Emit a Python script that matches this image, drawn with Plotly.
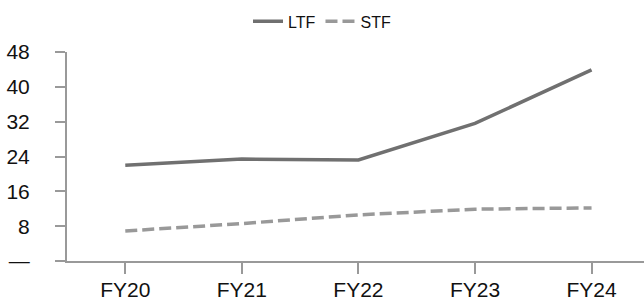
import plotly.graph_objects as go

categories = ["FY20", "FY21", "FY22", "FY23", "FY24"]
ltf = [22.0, 23.4, 23.2, 31.6, 43.9]
stf = [6.9, 8.6, 10.6, 11.9, 12.2]
y_tickvals = [0, 8, 16, 24, 32, 40, 48]
y_ticktext = ["—", "8", "16", "24", "32", "40", "48"]

fig = go.Figure()
fig.add_trace(go.Scatter(x=categories, y=ltf, name="LTF", mode="lines",
                         line=dict(color="#707070", width=3.5)))
fig.add_trace(go.Scatter(x=categories, y=stf, name="STF", mode="lines",
                         line=dict(color="#999999", width=3.5, dash="12px,5px")))

font = "Liberation Sans, Arial, sans-serif"
fig.update_layout(
    width=644, height=298,
    margin=dict(l=67, r=0, t=52, b=37, autoexpand=False),
    paper_bgcolor="white", plot_bgcolor="white",
    font=dict(family=font, size=21, color="#111111"),
    showlegend=True,
    legend=dict(orientation="h", xref="container", yref="container",
                x=0.5, xanchor="center", y=0.985, yanchor="top",
                font=dict(size=16, family=font, color="#111111"),
                itemwidth=30, tracegroupgap=0),
    xaxis=dict(type="category", range=[-0.5, 4.45], showgrid=False,
               showline=True, linecolor="#999999", linewidth=2,
               ticks="outside", ticklen=11, tickwidth=2, tickcolor="#999999",
               ticklabelstandoff=-2, tickfont=dict(size=21), zeroline=False,
               automargin=False),
    yaxis=dict(range=[0, 48], tickvals=y_tickvals, ticktext=y_ticktext,
               showgrid=False, showline=True, linecolor="#999999", linewidth=2,
               ticks="outside", ticklen=10, tickwidth=2, tickcolor="#999999",
               ticklabelstandoff=21, tickfont=dict(size=21), zeroline=False,
               automargin=False),
)

fig.write_html("out.html", config={"displayModeBar": False, "staticPlot": True},
               post_script="document.body.style.margin='0';document.body.style.overflow='hidden';")
